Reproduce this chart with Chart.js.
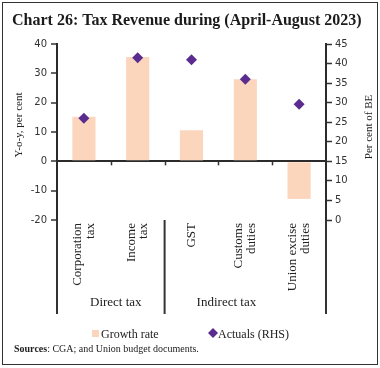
<!DOCTYPE html>
<html>
<head>
<meta charset="utf-8">
<script src="https://cdn.jsdelivr.net/npm/chart.js@4"></script>
<style>
  html, body { margin: 0; padding: 0; background: #fff; }
  #wrap { width: 380px; height: 368px; position: relative; }
</style>
</head>
<body>
<div id="wrap"><canvas id="taxChart" width="380" height="368"></canvas></div>
<script>
// chart data
var categories = [['Corporation', 'tax'], ['Income', 'tax'], ['GST'], ['Customs', 'duties'], ['Union excise', 'duties']];
var groups = ['Direct tax', 'Indirect tax'];
var growthRate = [15.2, 35.6, 10.6, 28.0, -12.8];
var actualsRHS = [26.0, 41.5, 41.0, 36.0, 29.6];
var leftTicks = [-20, -10, 0, 10, 20, 30, 40];
var rightTicks = [0, 5, 10, 15, 20, 25, 30, 35, 40, 45];

var SERIF = '"Liberation Serif", "DejaVu Serif", serif';
var SANS = '"DejaVu Sans", Verdana, sans-serif';
var barColor = '#FBD5BC';
var dotColor = '#5B2C8F';

// draws title, rotated category labels, group labels, legend, source note and frame
var decorPlugin = {
    id: 'decor',
    afterDraw: function (chart) {
        var ctx = chart.ctx;
        var x = chart.scales.x;
        var area = chart.chartArea;
        var zeroY = chart.scales.y.getPixelForValue(0);
        ctx.save();

        // frame
        ctx.strokeStyle = '#333';
        ctx.lineWidth = 1;
        ctx.strokeRect(2.5, 2.5, 375, 362);

        // title
        ctx.fillStyle = '#1b1b1b';
        ctx.font = 'bold 16px ' + SERIF;
        ctx.textAlign = 'left';
        ctx.textBaseline = 'alphabetic';
        ctx.fillText('Chart 26: Tax Revenue during (April-August 2023)', 12, 25);

        // axis titles
        ctx.font = '11px ' + SERIF;
        ctx.fillStyle = '#222';
        ctx.textAlign = 'center';
        ctx.textBaseline = 'middle';
        ctx.save();
        ctx.translate(19, 125);
        ctx.rotate(-Math.PI / 2);
        ctx.fillText('Y-o-y, per cent', 0, 0);
        ctx.restore();
        ctx.save();
        ctx.translate(369, 127);
        ctx.rotate(-Math.PI / 2);
        ctx.fillText('Per cent of BE', 0, 0);
        ctx.restore();

        // small ticks on the zero line between categories
        ctx.strokeStyle = '#333';
        ctx.lineWidth = 1.5;
        for (var b = 0; b < categories.length - 1; b++) {
            var bx = Math.round(x.getPixelForValue(b + 0.5)) + 0.5;
            ctx.beginPath();
            ctx.moveTo(bx, zeroY);
            ctx.lineTo(bx, zeroY + 4);
            ctx.stroke();
        }

        // group separators below the plot
        ctx.lineWidth = 2;
        var seps = [area.left, x.getPixelForValue(1.5), area.right];
        seps.forEach(function (sx) {
            ctx.beginPath();
            ctx.moveTo(sx, area.bottom);
            ctx.lineTo(sx, 314);
            ctx.stroke();
        });

        // category labels, rotated
        ctx.font = '13px ' + SERIF;
        ctx.fillStyle = '#222';
        ctx.textAlign = 'right';
        ctx.textBaseline = 'middle';
        categories.forEach(function (lines, i) {
            var cx = x.getPixelForValue(i);
            ctx.save();
            ctx.translate(cx, area.bottom + 3);
            ctx.rotate(-Math.PI / 2);
            var n = lines.length;
            lines.forEach(function (t, k) {
                ctx.fillText(t, 0, (k - (n - 1) / 2) * 12.5);
            });
            ctx.restore();
        });

        // group labels
        ctx.textAlign = 'center';
        ctx.textBaseline = 'alphabetic';
        ctx.font = '13px ' + SERIF;
        ctx.fillText(groups[0], x.getPixelForValue(0.5) + 5, 306);
        ctx.fillText(groups[1], x.getPixelForValue(2.5) + 8, 306);

        // legend
        ctx.fillStyle = barColor;
        ctx.fillRect(92, 330, 7, 7);
        ctx.fillStyle = '#222';
        ctx.textAlign = 'left';
        ctx.font = '12px ' + SERIF;
        ctx.fillText('Growth rate', 101, 338);
        ctx.fillStyle = dotColor;
        ctx.beginPath();
        ctx.moveTo(213, 328);
        ctx.lineTo(218, 333);
        ctx.lineTo(213, 338);
        ctx.lineTo(208, 333);
        ctx.closePath();
        ctx.fill();
        ctx.fillStyle = '#222';
        ctx.fillText('Actuals (RHS)', 218, 338);

        // source note
        ctx.font = 'bold 10px ' + SERIF;
        ctx.fillText('Sources', 14, 352);
        var w = ctx.measureText('Sources').width;
        ctx.font = '10px ' + SERIF;
        ctx.fillText(': CGA; and Union budget documents.', 14 + w, 352);

        ctx.restore();
    }
};

var ctx = document.getElementById('taxChart').getContext('2d');
var chart = new Chart(ctx, {
    data: {
        labels: categories.map(function (c) { return c.join(' '); }),
        datasets: [{
            type: 'line',
            label: 'Actuals (RHS)',
            data: actualsRHS,
            yAxisID: 'y1',
            showLine: false,
            pointStyle: 'rectRot',
            pointRadius: 5.5,
            pointBackgroundColor: dotColor,
            pointBorderWidth: 0,
            order: 0
        }, {
            type: 'bar',
            label: 'Growth rate',
            data: growthRate,
            yAxisID: 'y',
            backgroundColor: barColor,
            borderWidth: 0,
            categoryPercentage: 1,
            barPercentage: 0.43,
            order: 1
        }]
    },
    options: {
        responsive: false,
        animation: false,
        layout: { padding: { left: 0, right: 0, top: 44, bottom: 148 } },
        plugins: {
            legend: { display: false },
            tooltip: { enabled: false }
        },
        scales: {
            x: { display: false },
            y: {
                position: 'left',
                min: -20,
                max: 40,
                afterBuildTicks: function (s) { s.ticks = leftTicks.map(function (v) { return { value: v }; }); },
                afterFit: function (s) { s.width = 57; },
                ticks: { font: { family: SANS, size: 10 }, color: '#333', padding: 4 },
                grid: {
                    drawOnChartArea: true,
                    tickLength: 6,
                    tickColor: '#333',
                    tickWidth: 1.5,
                    color: function (c) { return c.tick && c.tick.value === 0 ? '#2b2b2b' : 'rgba(0,0,0,0)'; },
                    lineWidth: function (c) { return c.tick && c.tick.value === 0 ? 2 : 0; }
                },
                border: { display: true, color: '#2b2b2b', width: 2 }
            },
            y1: {
                position: 'right',
                min: 0,
                max: 45,
                afterBuildTicks: function (s) { s.ticks = rightTicks.map(function (v) { return { value: v }; }); },
                afterFit: function (s) { s.width = 54; },
                ticks: { font: { family: SANS, size: 10 }, color: '#333', padding: 3 },
                grid: { drawOnChartArea: false, tickLength: 6, tickColor: '#333', tickWidth: 1.5 },
                border: { display: true, color: '#2b2b2b', width: 2 }
            }
        }
    },
    plugins: [decorPlugin]
});
</script>
</body>
</html>
